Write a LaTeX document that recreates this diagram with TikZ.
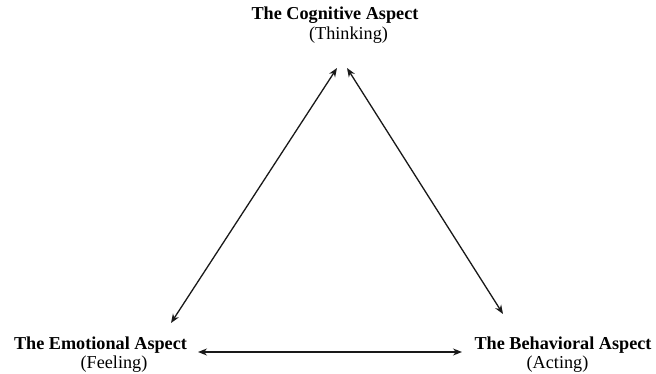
\documentclass[tikz,border=0pt]{standalone}
\usepackage{fontspec}
\setmainfont{Liberation Serif}
\usetikzlibrary{arrows.meta}
\tikzset{
  head/.style={anchor=base, inner sep=0pt, font=\fontsize{18.2}{22}\selectfont\bfseries, text=black},
  sub/.style={anchor=base, inner sep=0pt, font=\fontsize{18.2}{22}\selectfont, text=black},
  link/.style={line width=1.3pt, draw=black!90, {Stealth[length=9pt,width=7pt]}-{Stealth[length=9pt,width=7pt]}}
}
\begin{document}
\begin{tikzpicture}[x=1pt,y=-1pt]
\useasboundingbox[fill=white] (0,0) rectangle (656,374);
% labels
\node[head] (cog) at (335,20) {The Cognitive Aspect};
\node[sub] (think) at (348.5,39.5) {(Thinking)};
\node[head] (emo) at (100.5,349) {The Emotional Aspect};
\node[sub] (feel) at (114,368.5) {(Feeling)};
\node[head] (beh) at (563,349) {The Behavioral Aspect};
\node[sub] (act) at (557.5,368.5) {(Acting)};
% arrow end points
\coordinate (cl) at (337,68);
\coordinate (cr) at (347,68);
\coordinate (el) at (171,323);
\coordinate (er) at (198,352);
\coordinate (bl) at (462,352);
\coordinate (bt) at (503,314);
% connectors
\draw[link] (el) -- (cl);
\draw[link] (cr) -- (bt);
\draw[link] (er) -- (bl);
\end{tikzpicture}
\end{document}
